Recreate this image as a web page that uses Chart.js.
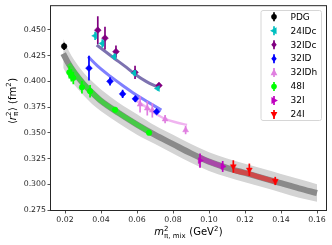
<!DOCTYPE html>
<html>
<head>
<meta charset="utf-8">
<script src="https://cdn.jsdelivr.net/npm/chart.js@4.4.0/dist/chart.umd.min.js"></script>
<style>
  html, body { margin: 0; padding: 0; background: #fff; }
</style>
</head>
<body>
<canvas id="radius-chart" width="332" height="245"></canvas>
<script>
// tick labels
const xTicks = [0.02, 0.04, 0.06, 0.08, 0.10, 0.12, 0.14, 0.16]
const yTicks = [0.275, 0.300, 0.325, 0.350, 0.375, 0.400, 0.425, 0.450]

// lattice / PDG points (m_pi^2, <r^2>, error)
const xPDG = [0.0195]
const yPDG = [0.434]
const ePDG = [0.0035]

const x24IDc = [0.0367, 0.0407, 0.0474, 0.0585, 0.0715]
const y24IDc = [0.4442, 0.4368, 0.4240, 0.4080, 0.3930]
const e24IDc = [0.004, 0.004, 0.003, 0.003, 0.002]

const x32IDc = [0.0382, 0.0422, 0.0483, 0.0589, 0.0722]
const y32IDc = [0.4497, 0.4420, 0.4288, 0.4087, 0.3960]
const e32IDc = [0.0135, 0.011, 0.006, 0.0065, 0.002]

const x32ID = [0.0333, 0.0450, 0.0520, 0.0591, 0.0709]
const y32ID = [0.4128, 0.4000, 0.3878, 0.3830, 0.3705]
const e32ID = [0.012, 0.004, 0.004, 0.003, 0.0015]

const x32IDh = [0.0617, 0.0657, 0.0685, 0.0756, 0.0870]
const y32IDh = [0.3776, 0.3738, 0.3718, 0.3632, 0.3526]
const e32IDh = [0.008, 0.007, 0.007, 0.004, 0.004]

const x48I = [0.0224, 0.0235, 0.0246, 0.0294, 0.0339, 0.0478, 0.0667]
const y48I = [0.4087, 0.4058, 0.4032, 0.3942, 0.3904, 0.3724, 0.3500]
const e48I = [0.006, 0.006, 0.006, 0.006, 0.006, 0.002, 0.002]

const x32I = [0.0950, 0.1076]
const y32I = [0.3230, 0.3173]
const e32I = [0.007, 0.0053]

const x24I = [0.1135, 0.1224, 0.1368]
const y24I = [0.3173, 0.3141, 0.3032]
const e24I = [0.006, 0.006, 0.004]

// fit curves
const bandX     = [0.019, 0.022, 0.025, 0.03, 0.035, 0.04, 0.05, 0.06, 0.07, 0.08, 0.09, 0.10, 0.11, 0.12, 0.13, 0.14, 0.15, 0.16]
const bandMid   = [0.427, 0.417, 0.409, 0.398, 0.389, 0.381, 0.369, 0.358, 0.348, 0.339, 0.330, 0.322, 0.316, 0.311, 0.306, 0.301, 0.296, 0.2915]
const bandUpper = [0.441, 0.430, 0.421, 0.409, 0.400, 0.392, 0.379, 0.368, 0.357, 0.348, 0.339, 0.331, 0.325, 0.320, 0.315, 0.310, 0.305, 0.300]
const bandLower = [0.413, 0.404, 0.397, 0.387, 0.378, 0.371, 0.359, 0.348, 0.339, 0.330, 0.321, 0.313, 0.307, 0.302, 0.297, 0.292, 0.287, 0.283]

const fit48IX = [0.022, 0.025, 0.03, 0.035, 0.04, 0.05, 0.06, 0.067]
const fit48IY = [0.417, 0.409, 0.398, 0.389, 0.381, 0.369, 0.358, 0.3505]
const fit32IX = [0.095, 0.10, 0.108]
const fit32IY = [0.326, 0.322, 0.317]
const fit24IX = [0.1135, 0.12, 0.13, 0.138]
const fit24IY = [0.3135, 0.311, 0.306, 0.302]
const fitDcX = [0.0376, 0.042, 0.0473, 0.053, 0.0585, 0.065, 0.0722]
const fitDcY = [0.4353, 0.4295, 0.4224, 0.4150, 0.4074, 0.4000, 0.3937]
const fit32IDX = [0.0328, 0.038, 0.045, 0.052, 0.059, 0.066, 0.0735]
const fit32IDY = [0.424, 0.415, 0.405, 0.396, 0.3875, 0.380, 0.372]
const fit32IDhX = [0.060, 0.065, 0.070, 0.0756, 0.082, 0.0878]
const fit32IDhY = [0.3808, 0.375, 0.369, 0.3635, 0.3600, 0.3577]

function pts(xs, ys) {
  return xs.map((x, i) => ({ x: x, y: ys[i] }))
}

function pointSet(label, xs, ys, errs, color, style, rotation) {
  return {
    type: 'scatter',
    label: label,
    data: pts(xs, ys),
    errs: errs,
    backgroundColor: color,
    borderColor: color,
    pointStyle: style,
    rotation: rotation,
    pointRadius: style == 'circle' ? 2.8 : 3.4,
    pointBorderWidth: 0.5,
    legend: true
  }
}

function lineSet(xs, ys, color, width) {
  return {
    type: 'line',
    data: pts(xs, ys),
    borderColor: color,
    borderWidth: width,
    pointRadius: 0,
    cubicInterpolationMode: 'monotone',
    fill: false
  }
}

const datasets = [
  pointSet('PDG', xPDG, yPDG, ePDG, '#000000', 'circle', 0),
  pointSet('24IDc', x24IDc, y24IDc, e24IDc, '#00bfbf', 'triangle', -90),
  pointSet('32IDc', x32IDc, y32IDc, e32IDc, '#800080', 'rectRot', 0),
  pointSet('32ID', x32ID, y32ID, e32ID, '#0000ff', 'rectRot', 0),
  pointSet('32IDh', x32IDh, y32IDh, e32IDh, '#e07fe0', 'triangle', 0),
  pointSet('48I', x48I, y48I, e48I, '#00ff00', 'circle', 0),
  pointSet('32I', x32I, y32I, e32I, '#bf00bf', 'triangle', 90),
  pointSet('24I', x24I, y24I, e24I, '#ff0000', 'triangle', 180),
  lineSet(fit48IX, fit48IY, '#47c947', 5),
  lineSet(fit32IX, fit32IY, '#a848a8', 5),
  lineSet(fit24IX, fit24IY, '#cc4a4a', 5),
  lineSet(fitDcX, fitDcY, '#7d72b0', 3),
  lineSet(fit32IDX, fit32IDY, '#7f7fff', 3),
  lineSet(fit32IDhX, fit32IDhY, '#f0b4f0', 2.5),
  lineSet(bandX, bandMid, '#8a8a8a', 6),
  {
    type: 'line',
    data: pts(bandX, bandUpper),
    borderWidth: 0,
    pointRadius: 0,
    cubicInterpolationMode: 'monotone',
    backgroundColor: '#d4d4d4',
    fill: '+1'
  },
  {
    type: 'line',
    data: pts(bandX, bandLower),
    borderWidth: 0,
    pointRadius: 0,
    cubicInterpolationMode: 'monotone',
    fill: false
  }
]

// vertical error bars under each marker
const errorBars = {
  id: 'errorBars',
  beforeDatasetDraw(chart, args) {
    const ds = chart.data.datasets[args.index]
    if (!ds.errs) return
    const ctx = chart.ctx
    const ys = chart.scales.y
    ctx.save()
    ctx.strokeStyle = ds.borderColor
    ctx.lineWidth = 1.7
    args.meta.data.forEach((pt, i) => {
      const v = ds.data[i].y
      ctx.beginPath()
      ctx.moveTo(pt.x, ys.getPixelForValue(v + ds.errs[i]))
      ctx.lineTo(pt.x, ys.getPixelForValue(v - ds.errs[i]))
      ctx.stroke()
    })
    ctx.restore()
  }
}

function drawMarker(ctx, style, rotation, r, x, y) {
  ctx.save()
  ctx.translate(x, y)
  ctx.rotate(rotation * Math.PI / 180)
  ctx.beginPath()
  if (style == 'circle') {
    ctx.arc(0, 0, r, 0, Math.PI * 2)
  } else if (style == 'triangle') {
    ctx.moveTo(0, -r * 1.15)
    ctx.lineTo(r, r * 0.75)
    ctx.lineTo(-r, r * 0.75)
    ctx.closePath()
  } else {
    ctx.moveTo(0, -r)
    ctx.lineTo(r * 0.8, 0)
    ctx.lineTo(0, r)
    ctx.lineTo(-r * 0.8, 0)
    ctx.closePath()
  }
  ctx.fill()
  ctx.restore()
}

function fontOf(size, italic) {
  return (italic ? 'oblique ' : '') + size + 'px "DejaVu Sans"'
}

// text with matplotlib style sup/sub scripts
function drawMath(ctx, parts, x, y) {
  const widths = parts.map(p => {
    if (p.sup !== undefined || p.sub !== undefined) {
      ctx.font = fontOf(7, false)
      return Math.max(ctx.measureText(p.sup || '').width, ctx.measureText(p.sub || '').width) + 0.5
    }
    ctx.font = fontOf(10, p.italic)
    return ctx.measureText(p.t).width
  })
  let cx = x - widths.reduce((a, b) => a + b, 0) / 2
  parts.forEach((p, i) => {
    if (p.sup !== undefined || p.sub !== undefined) {
      ctx.font = fontOf(7, false)
      if (p.sup) ctx.fillText(p.sup, cx, y - 4.5)
      if (p.sub) ctx.fillText(p.sub, cx, y + 2.5)
    } else {
      ctx.font = fontOf(10, p.italic)
      ctx.fillText(p.t, cx, y)
    }
    cx += widths[i]
  })
}

const decorations = {
  id: 'decorations',
  afterDraw(chart) {
    const ctx = chart.ctx
    const a = chart.chartArea
    ctx.save()
    // axes frame
    ctx.strokeStyle = '#262626'
    ctx.lineWidth = 1
    ctx.strokeRect(a.left - 0.5, a.top - 0.5, a.right - a.left + 1, a.bottom - a.top + 1)

    // axis titles
    ctx.fillStyle = '#000'
    ctx.textAlign = 'left'
    ctx.textBaseline = 'alphabetic'
    drawMath(ctx, [
      { t: 'm', italic: true },
      { sup: '2', sub: 'π, mix' },
      { t: ' (GeV' },
      { sup: '2' },
      { t: ')' }
    ], (a.left + a.right) / 2, 235)

    ctx.save()
    ctx.translate(15.5, 101)
    ctx.rotate(-Math.PI / 2)
    drawMath(ctx, [
      { t: '⟨' },
      { t: 'r', italic: true },
      { sup: '2', sub: 'π' },
      { t: '⟩ (fm' },
      { sup: '2' },
      { t: ')' }
    ], 0, 0)
    ctx.restore()

    // legend box
    const bx = 261, by = 10.5, bw = 60.5, bh = 110
    ctx.fillStyle = 'rgba(255,255,255,0.85)'
    ctx.strokeStyle = '#d6d6d6'
    ctx.lineWidth = 1
    ctx.beginPath()
    ctx.roundRect(bx, by, bw, bh, 2)
    ctx.fill()
    ctx.stroke()

    ctx.font = fontOf(9, false)
    ctx.textBaseline = 'middle'
    chart.data.datasets.filter(d => d.legend).forEach((d, i) => {
      const ly = 16.8 + i * 13.95
      ctx.strokeStyle = d.borderColor
      ctx.lineWidth = 1.7
      ctx.beginPath()
      ctx.moveTo(274, ly - 4.5)
      ctx.lineTo(274, ly + 4.5)
      ctx.stroke()
      ctx.fillStyle = d.backgroundColor
      drawMarker(ctx, d.pointStyle, d.rotation, d.pointRadius, 274, ly)
      ctx.fillStyle = '#000'
      ctx.fillText(d.label, 290.5, ly + 0.5)
    })
    ctx.restore()
  }
}

const radiusChartConfig = {
  type: 'scatter',
  data: { datasets: datasets },
  options: {
    responsive: false,
    animation: false,
    layout: {
      padding: { left: 0, top: 5, right: 6, bottom: 0 }
    },
    plugins: {
      legend: { display: false },
      tooltip: { enabled: false }
    },
    scales: {
      x: {
        type: 'linear',
        min: 0.0122,
        max: 0.165,
        afterBuildTicks: (scale) => { scale.ticks = xTicks.map(v => ({ value: v })) },
        afterFit: (scale) => { scale.height = 35 },
        border: { display: false },
        grid: {
          drawOnChartArea: false,
          drawTicks: true,
          tickLength: 3.5,
          tickWidth: 0.8,
          tickColor: '#262626'
        },
        ticks: {
          padding: 2,
          color: '#262626',
          maxRotation: 0,
          font: { family: 'DejaVu Sans', size: 7.8 },
          callback: (value) => value.toFixed(2)
        }
      },
      y: {
        type: 'linear',
        min: 0.275,
        max: 0.473,
        afterBuildTicks: (scale) => { scale.ticks = yTicks.map(v => ({ value: v })) },
        afterFit: (scale) => { scale.width = 51 },
        border: { display: false },
        grid: {
          drawOnChartArea: false,
          drawTicks: true,
          tickLength: 3.5,
          tickWidth: 0.8,
          tickColor: '#262626'
        },
        ticks: {
          padding: 1.5,
          color: '#262626',
          font: { family: 'DejaVu Sans', size: 7.8 },
          callback: (value) => value.toFixed(3)
        }
      }
    }
  },
  plugins: [errorBars, decorations]
}

const chartElement = document.getElementById('radius-chart').getContext('2d')
const radiusChart = new Chart(chartElement, radiusChartConfig)
</script>
</body>
</html>
